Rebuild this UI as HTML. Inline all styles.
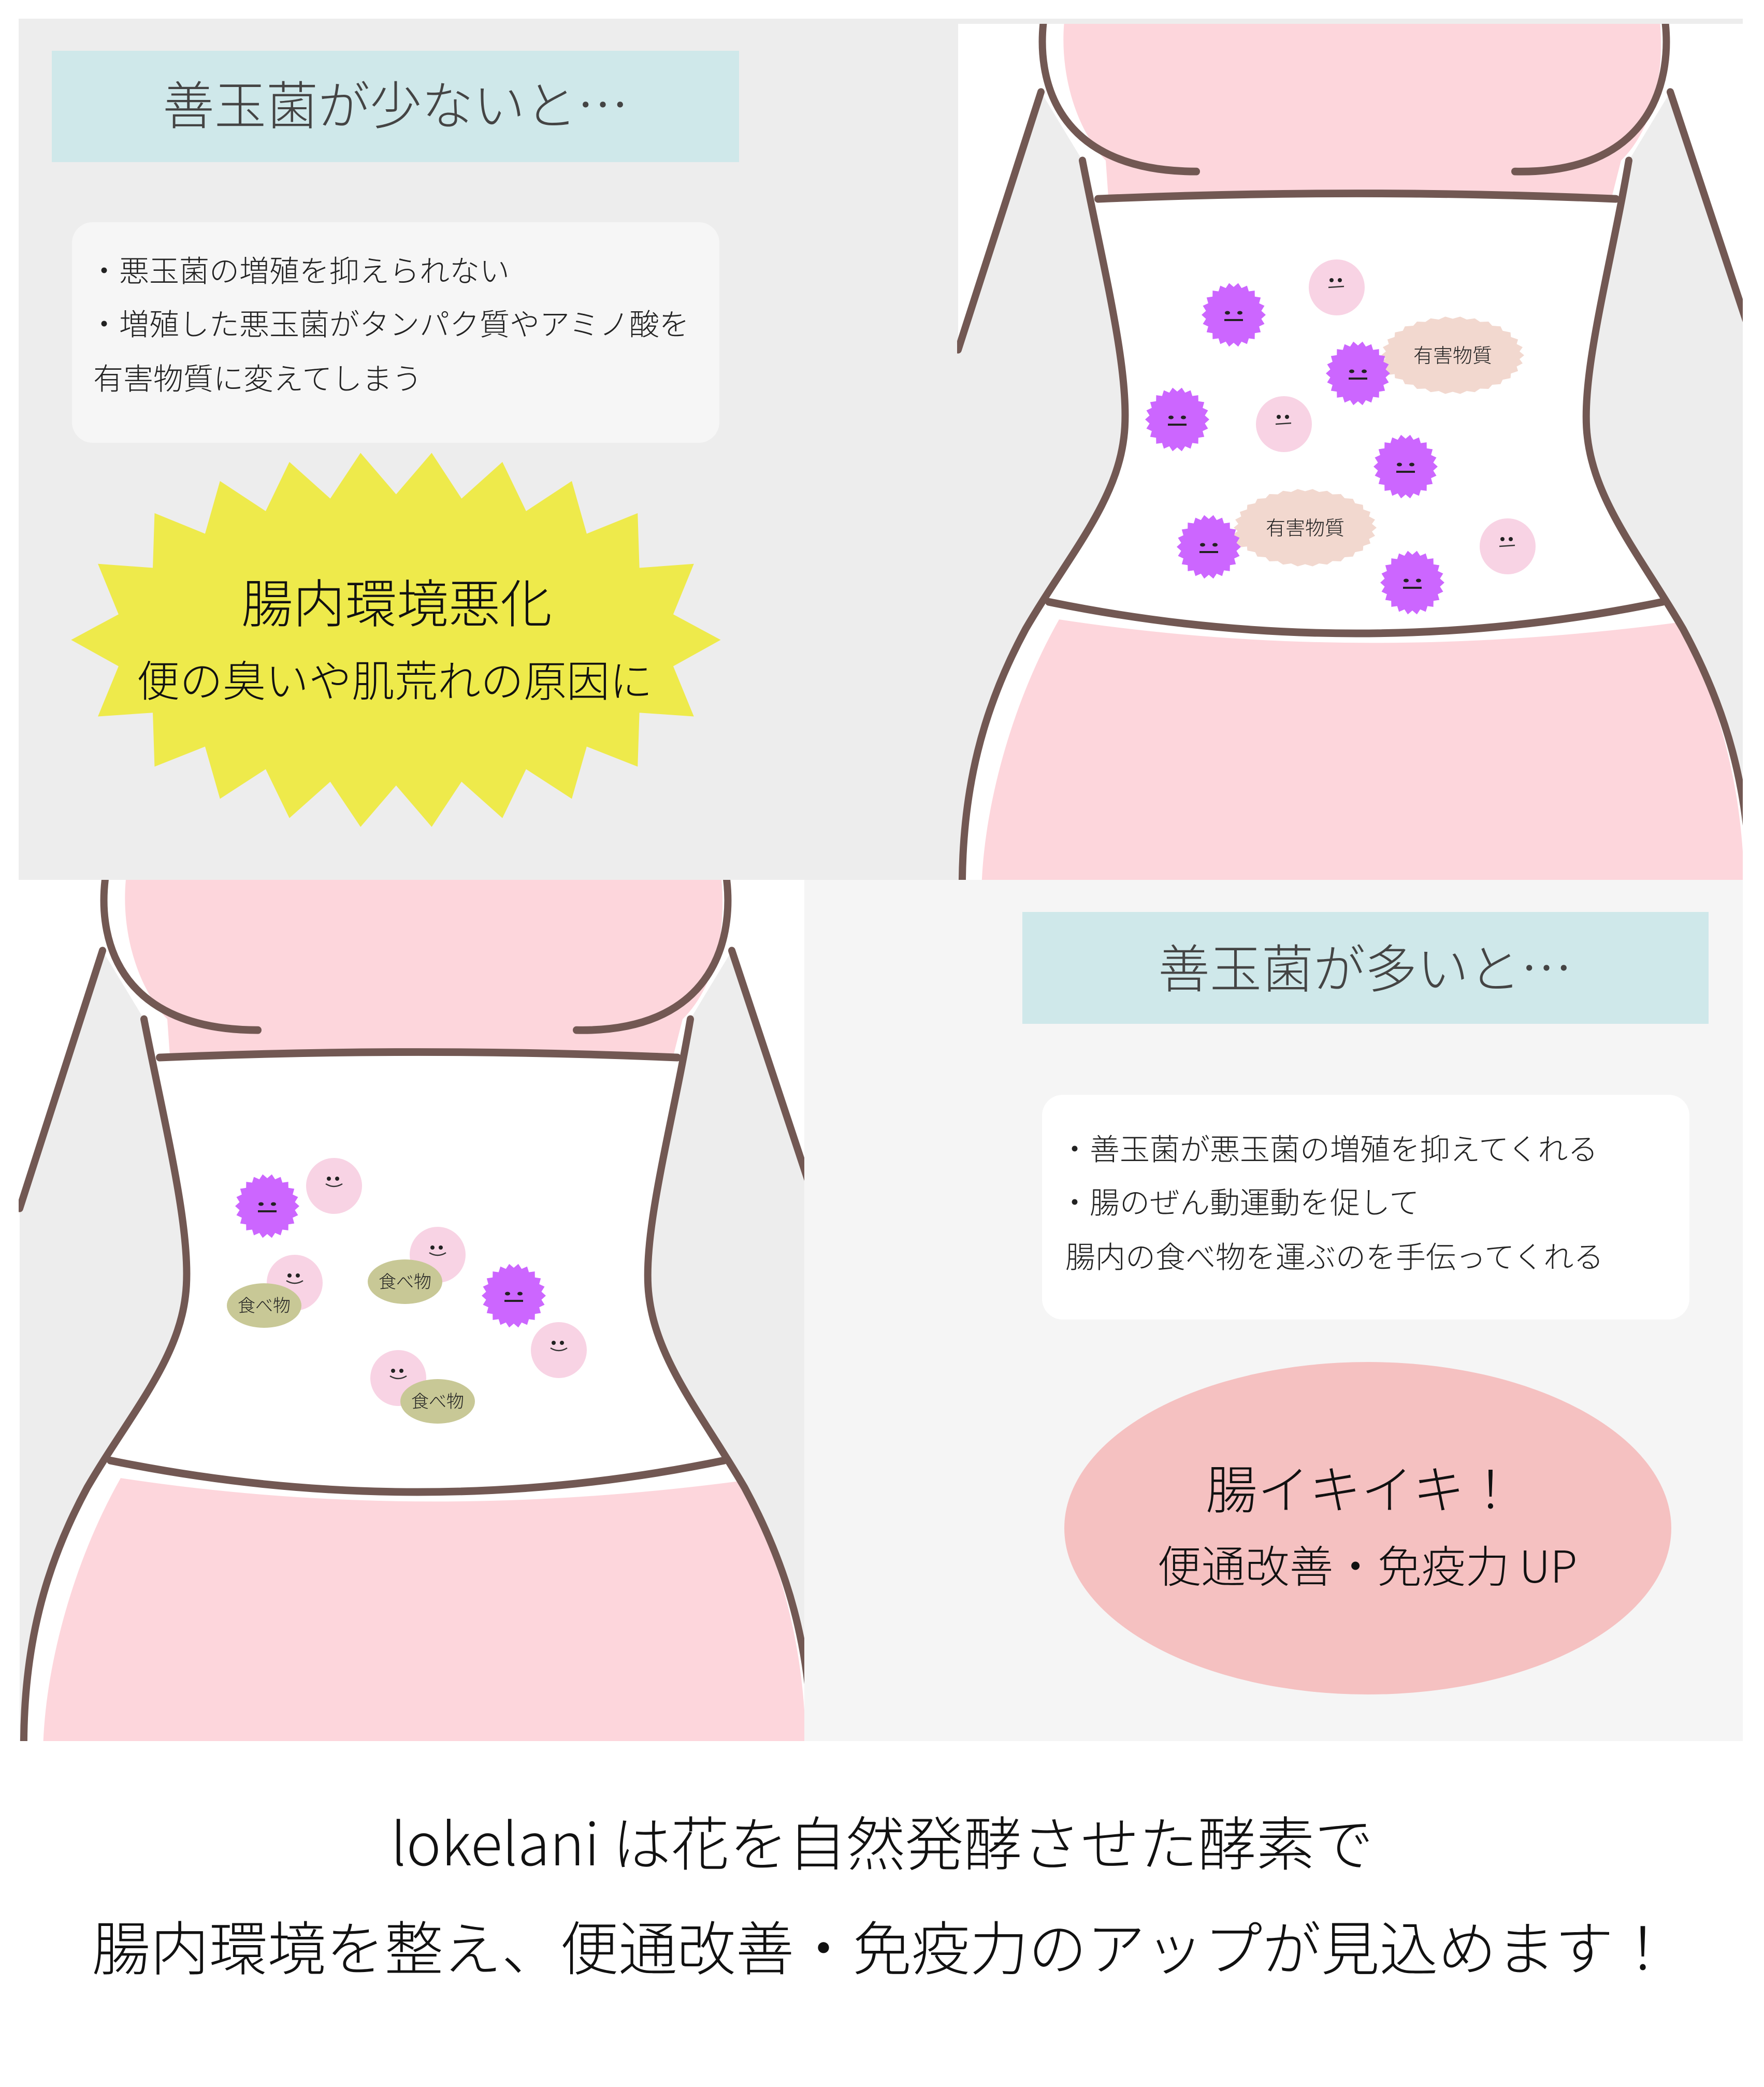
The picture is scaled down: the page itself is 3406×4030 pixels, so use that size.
<!DOCTYPE html>
<html><head><meta charset="utf-8">
<style>
html,body{margin:0;padding:0;background:#fff;}
svg{display:block;}
text{font-family:"Noto Sans CJK JP","Liberation Sans",sans-serif;font-weight:300;}
</style></head>
<body>
<svg id="s" xmlns="http://www.w3.org/2000/svg" width="3406" height="4030" viewBox="0 0 3406 4030">
<defs>
<clipPath id="ctop"><rect x="1848" y="46" width="1517" height="1653"/></clipPath>
<clipPath id="cbot"><rect x="36" y="1699" width="1517" height="1663"/></clipPath>
<g id="body">
  <rect x="0" y="0" width="1560" height="1580" fill="#fff"/>
  <path d="M160,130 L240,255 C280,450 335,650 320,760 C305,880 210,980 130,1110 C50,1250 5,1400 8,1600 L0,1600 L0,600 Z" fill="#ededed"/>
  <path d="M1375,130 L1295,255 C1260,450 1200,650 1215,760 C1230,880 1320,980 1400,1110 C1480,1250 1530,1400 1530,1600 L1545,1600 L1545,600 Z" fill="#ededed"/>
  <path d="M205,0 C195,100 230,200 285,255 L290,322 L1262,322 L1280,255 C1340,200 1365,100 1355,0 Z" fill="#fdd6dc"/>
  <path d="M195,1092 Q770,1175 1395,1097 C1470,1250 1518,1400 1518,1600 L45,1600 C45,1450 100,1250 195,1092 Z" fill="#fdd6dc"/>
  <g fill="none" stroke="#725853" stroke-width="14" stroke-linecap="round">
    <path d="M165,0 C150,120 200,275 460,275"/>
    <path d="M1365,0 C1380,120 1330,280 1075,275"/>
    <path d="M160,130 L0,600"/>
    <path d="M1375,130 L1540,600"/>
    <path d="M240,255 C280,450 335,650 320,760 C305,880 210,980 130,1110 C50,1250 5,1400 8,1600"/>
    <path d="M1295,255 C1260,450 1200,650 1215,760 C1230,880 1320,980 1400,1110 C1480,1250 1530,1400 1530,1600"/>
    <path d="M270,325 Q770,305 1270,325"/>
    <path d="M175,1060 Q770,1175 1360,1060"/>
  </g>
</g>
</defs>

<rect x="0" y="0" width="3406" height="4030" fill="#fff"/>
<rect x="36" y="36" width="3329" height="1663" fill="#ededed"/>
<rect x="1553" y="1699" width="1812" height="1663" fill="#f5f5f5"/>

<g clip-path="url(#ctop)"><use href="#body" transform="translate(1850,40) scale(1,1.0587)"/></g>
<g clip-path="url(#cbot)"><use href="#body" transform="translate(38,1698) scale(1,1.0587)"/></g>

<rect x="100" y="98" width="1327" height="215" fill="#cfe8ea"/>
<text x="764" y="240" font-size="100" text-anchor="middle" fill="#444">善玉菌が少ないと…</text>
<rect x="139" y="429" width="1250" height="426" rx="40" fill="#f6f6f6"/>
<g font-size="58" fill="#222">
<text x="172" y="544">・悪玉菌の増殖を抑えられない</text>
<text x="172" y="647">・増殖した悪玉菌がタンパク質やアミノ酸を</text>
<text x="180" y="752">有害物質に変えてしまう</text>
</g>
<polygon transform="translate(100,860) scale(0.848,0.4847)" fill="#eeea4b" points="703,30 784,195 865,30 933,212 1026,66 1080,262 1184,142 1218,352 1334,270 1338,488 1462,472 1415,673 1523,775 1415,880 1462,1080 1338,1065 1334,1280 1218,1200 1184,1408 1080,1290 1026,1485 933,1340 865,1520 784,1355 703,1520 634,1340 541,1485 487,1290 383,1408 349,1200 234,1280 230,1065 105,1080 152,880 44,775 152,673 105,472 230,488 234,270 349,352 383,142 487,262 541,66 634,212"/>
<text x="766" y="1202" font-size="100" text-anchor="middle" fill="#111">腸内環境悪化</text>
<text x="762" y="1345" font-size="83" text-anchor="middle" fill="#111">便の臭いや肌荒れの原因に</text>

<rect x="1974" y="1761" width="1325" height="216" fill="#cfe8ea"/>
<text x="2636" y="1907" font-size="100" text-anchor="middle" fill="#444">善玉菌が多いと…</text>
<rect x="2012" y="2114" width="1250" height="434" rx="40" fill="#fff"/>
<g font-size="58" fill="#222">
<text x="2046" y="2240">・善玉菌が悪玉菌の増殖を抑えてくれる</text>
<text x="2046" y="2343">・腸のぜん動運動を促して</text>
<text x="2057" y="2448">腸内の食べ物を運ぶのを手伝ってくれる</text>
</g>
<ellipse cx="2641" cy="2951" rx="586" ry="321" fill="#f5c1c1"/>
<text x="2628" y="2913" font-size="100" text-anchor="middle" fill="#111">腸イキイキ！</text>
<text x="2640" y="3056" font-size="85" text-anchor="middle" fill="#111">便通改善・免疫力 UP</text>

<text x="1703" y="3602" font-size="113" text-anchor="middle" fill="#111">lokelani は花を自然発酵させた酵素で</text>
<text x="1703" y="3804" font-size="113" text-anchor="middle" fill="#111">腸内環境を整え、便通改善・免疫力のアップが見込めます！</text>

<g id="bugs"></g>
</svg>
<script>
(function(){
var NS="http://www.w3.org/2000/svg",g=document.getElementById("bugs");
function el(t,a){var e=document.createElementNS(NS,t);for(var k in a)e.setAttribute(k,a[k]);g.appendChild(e);return e;}
function spiky(cx,cy,rx,ry,n,d,fill){var p=[];for(var i=0;i<2*n;i++){var a=Math.PI*i/n,f=(i%2?1-d:1);p.push((cx+rx*f*Math.cos(a)).toFixed(1)+","+(cy+ry*f*Math.sin(a)).toFixed(1));}el("polygon",{points:p.join(" "),fill:fill});}
function bad(x,y){spiky(x,y,62,62,22,0.13,"#cc66ff");
 el("ellipse",{cx:x-12,cy:y-4,rx:5,ry:3.5,fill:"#222"});el("ellipse",{cx:x+12,cy:y-4,rx:5,ry:3.5,fill:"#222"});
 el("path",{d:"M"+(x-18)+","+(y+10)+" L"+(x+18)+","+(y+10),stroke:"#222","stroke-width":4,fill:"none"});}
function good(x,y,sad){el("circle",{cx:x,cy:y,r:54,fill:"#f8d3e4"});
 el("circle",{cx:x-10,cy:y-14,r:4,fill:"#222"});el("circle",{cx:x+6,cy:y-14,r:4,fill:"#222"});
 el("path",{d:sad?"M"+(x-16)+","+(y)+" L"+(x+14)+","+(y-2):"M"+(x-16)+","+(y-4)+" Q"+x+","+(y+6)+" "+(x+16)+","+(y-4),stroke:"#333","stroke-width":2.5,fill:"none"});}
function blob(x,y,tx,ty){el("path",{d:"M"+(x-110)+","+(y-10)+" L"+tx+","+ty+" L"+(x-100)+","+(y+35)+" Z",fill:"#f2d8cf"});
 spiky(x,y,138,75,30,0.06,"#f2d8cf");
 var t=el("text",{x:x,y:y+14,"font-size":38,"text-anchor":"middle",fill:"#222"});t.textContent="有害物質";}
function food(x,y){el("ellipse",{cx:x,cy:y,rx:72,ry:43,fill:"#c8c896"});
 var t=el("text",{x:x,y:y+12,"font-size":34,"text-anchor":"middle",fill:"#222"});t.textContent="食べ物";}
good(2581,555,1);good(2479,819,1);good(2911,1055,1);
blob(2805,686,2630,730);blob(2520,1019,2345,1062);
bad(2382,608);bad(2622,721);bad(2273,810);bad(2714,901);bad(2334,1056);bad(2727,1125);
bad(516,2329);bad(992,2502);
good(645,2290);good(569,2477);good(845,2423);good(1079,2607);good(769,2661);
food(510,2521);food(782,2475);food(845,2706);
})();
</script>
</body></html>
